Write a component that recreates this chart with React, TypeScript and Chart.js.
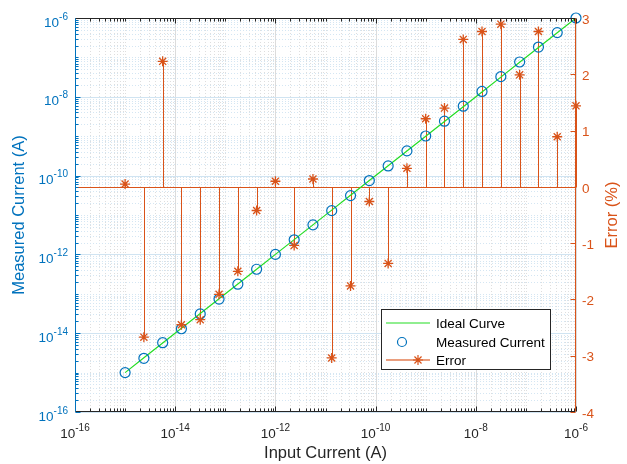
import React, { useEffect, useRef } from "react";
import { Chart, registerables } from "chart.js";

Chart.register(...registerables);

// ---------- data ----------
const inputCurrent = [
  1e-15, 2.37e-15, 5.62e-15, 1.33e-14, 3.16e-14, 7.5e-14, 1.78e-13, 4.22e-13,
  1e-12, 2.37e-12, 5.62e-12, 1.33e-11, 3.16e-11, 7.5e-11, 1.78e-10, 4.22e-10,
  1e-9, 2.37e-9, 5.62e-9, 1.33e-8, 3.16e-8, 7.5e-8, 1.78e-7, 4.22e-7, 1e-6,
];
const measuredCurrent = [
  1.0005e-15, 2.307e-15, 5.745e-15, 1.297e-14, 3.085e-14, 7.357e-14, 1.753e-13, 4.202e-13,
  1.001e-12, 2.345e-12, 5.628e-12, 1.29e-11, 3.104e-11, 7.481e-11, 1.756e-10, 4.234e-10,
  1.012e-9, 2.403e-9, 5.767e-9, 1.367e-8, 3.251e-8, 7.649e-8, 1.829e-7, 4.258e-7, 1.0e-6,
];
const errorPercent = [
  0.05, -2.67, 2.23, -2.45, -2.36, -1.91, -1.5, -0.42, 0.1, -1.04, 0.14, -3.04, -1.76,
  -0.26, -1.36, 0.33, 1.21, 1.4, 2.62, 2.76, 2.89, 1.99, 2.76, 0.89, 1.44,
];
const decadeExps = [-16, -15, -14, -13, -12, -11, -10, -9, -8, -7, -6];
const labeledExps = [-16, -14, -12, -10, -8, -6];
const minorMultipliers = [2, 3, 4, 5, 6, 7, 8, 9];
const errorTicks = [-4, -3, -2, -1, 0, 1, 2, 3];
const legendLabels = ["Ideal Curve", "Measured Current", "Error"];

// ---------- style ----------
const BLUE = "#0072BD";
const ORANGE = "#D95319";
const DARK = "#262626";
const GREEN = "#22dd22";
const FF = '"Liberation Sans", Arial, sans-serif';
const TICK_PX = 13.5;
const SUP_PX = 10;
const TITLE_PX = 16.5;

function minorValues(): number[] {
  const out: number[] = [];
  for (const k of decadeExps) {
    if (k === decadeExps[decadeExps.length - 1]) continue;
    if (!labeledExps.includes(k)) out.push(Math.pow(10, k));
    for (const m of minorMultipliers) out.push(m * Math.pow(10, k));
  }
  return out;
}

function drawPow(ctx: CanvasRenderingContext2D, e: number, x: number, yBase: number, align: string, color: string) {
  const base = "10";
  const sup = String(e);
  ctx.font = `${TICK_PX}px ${FF}`;
  const w1 = ctx.measureText(base).width;
  ctx.font = `${SUP_PX}px ${FF}`;
  const w2 = ctx.measureText(sup).width;
  const x0 = align === "center" ? x - (w1 + w2) / 2 : x - (w1 + w2);
  ctx.fillStyle = color;
  ctx.textAlign = "left";
  ctx.textBaseline = "alphabetic";
  ctx.font = `${TICK_PX}px ${FF}`;
  ctx.fillText(base, x0, yBase);
  ctx.font = `${SUP_PX}px ${FF}`;
  ctx.fillText(sup, x0 + w1, yBase - 7);
}

function drawStar(ctx: CanvasRenderingContext2D, cx: number, cy: number, r: number) {
  ctx.beginPath();
  for (let i = 0; i < 4; i++) {
    const a = (i * Math.PI) / 4;
    ctx.moveTo(cx - r * Math.cos(a), cy - r * Math.sin(a));
    ctx.lineTo(cx + r * Math.cos(a), cy + r * Math.sin(a));
  }
  ctx.stroke();
}

const decorPlugin = {
  id: "decor",
  beforeDatasetsDraw(chart: any) {
    const { ctx, chartArea: a, scales } = chart;
    const xs = scales.x, ys = scales.y, y2 = scales.y2;
    const minors = minorValues();
    ctx.save();
    ctx.lineWidth = 1;
    // minor grid (dotted)
    ctx.setLineDash([1, 2]);
    ctx.strokeStyle = "rgb(222,222,222)";
    for (const v of minors) {
      const px = Math.round(xs.getPixelForValue(v)) + 0.5;
      ctx.beginPath();
      ctx.moveTo(px, a.top);
      ctx.lineTo(px, a.bottom);
      ctx.stroke();
    }
    ctx.strokeStyle = "rgb(212,230,243)";
    for (const v of minors) {
      const py = Math.round(ys.getPixelForValue(v)) + 0.5;
      ctx.beginPath();
      ctx.moveTo(a.left, py);
      ctx.lineTo(a.right, py);
      ctx.stroke();
    }
    ctx.setLineDash([]);
    // major grid
    ctx.strokeStyle = "rgb(220,220,220)";
    for (const e of labeledExps) {
      const px = Math.round(xs.getPixelForValue(Math.pow(10, e))) + 0.5;
      ctx.beginPath();
      ctx.moveTo(px, a.top);
      ctx.lineTo(px, a.bottom);
      ctx.stroke();
    }
    ctx.strokeStyle = "rgb(208,228,242)";
    for (const e of labeledExps) {
      const py = Math.round(ys.getPixelForValue(Math.pow(10, e))) + 0.5;
      ctx.beginPath();
      ctx.moveTo(a.left, py);
      ctx.lineTo(a.right, py);
      ctx.stroke();
    }
    // stem baseline + stems
    ctx.strokeStyle = ORANGE;
    const y0 = Math.round(y2.getPixelForValue(0)) + 0.5;
    ctx.beginPath();
    ctx.moveTo(a.left, y0);
    ctx.lineTo(a.right, y0);
    ctx.stroke();
    for (let i = 0; i < inputCurrent.length; i++) {
      const px = Math.round(xs.getPixelForValue(inputCurrent[i])) + 0.5;
      const py = y2.getPixelForValue(errorPercent[i]);
      ctx.beginPath();
      ctx.moveTo(px, y0);
      ctx.lineTo(px, py);
      ctx.stroke();
    }
    ctx.restore();
  },
  afterDatasetsDraw(chart: any) {
    const { ctx, chartArea: a, scales } = chart;
    const xs = scales.x, ys = scales.y, y2 = scales.y2;
    const minors = minorValues();
    ctx.save();
    ctx.lineWidth = 1;
    const L = Math.round(a.left) + 0.5, R = Math.round(a.right) - 0.5;
    const T = Math.round(a.top) + 0.5, B = Math.round(a.bottom) - 0.5;
    // ticks x (bottom & top)
    ctx.strokeStyle = DARK;
    const xt = (v: number, len: number) => {
      const px = Math.round(xs.getPixelForValue(v)) + 0.5;
      ctx.beginPath();
      ctx.moveTo(px, B);
      ctx.lineTo(px, B - len);
      ctx.moveTo(px, T);
      ctx.lineTo(px, T + len);
      ctx.stroke();
    };
    for (const v of minors) xt(v, 3);
    for (const e of labeledExps) xt(Math.pow(10, e), 5);
    // ticks left
    ctx.strokeStyle = BLUE;
    const yt = (v: number, len: number) => {
      const py = Math.round(ys.getPixelForValue(v)) + 0.5;
      ctx.beginPath();
      ctx.moveTo(L, py);
      ctx.lineTo(L + len, py);
      ctx.stroke();
    };
    for (const v of minors) yt(v, 3);
    for (const e of labeledExps) yt(Math.pow(10, e), 5);
    // ticks right
    ctx.strokeStyle = ORANGE;
    for (const t of errorTicks) {
      const py = Math.round(y2.getPixelForValue(t)) + 0.5;
      ctx.beginPath();
      ctx.moveTo(R, py);
      ctx.lineTo(R - 5, py);
      ctx.stroke();
    }
    // frame
    ctx.strokeStyle = DARK;
    ctx.beginPath();
    ctx.moveTo(L, T);
    ctx.lineTo(R, T);
    ctx.moveTo(L, B);
    ctx.lineTo(R, B);
    ctx.stroke();
    ctx.strokeStyle = BLUE;
    ctx.beginPath();
    ctx.moveTo(L, T);
    ctx.lineTo(L, B);
    ctx.stroke();
    ctx.strokeStyle = ORANGE;
    ctx.beginPath();
    ctx.moveTo(R, T);
    ctx.lineTo(R, B);
    ctx.stroke();
    // tick labels
    for (const e of labeledExps) {
      const v = Math.pow(10, e);
      drawPow(ctx, e, xs.getPixelForValue(v), a.bottom + 26, "center", DARK);
      drawPow(ctx, e, a.left - 7, ys.getPixelForValue(v) + 8.5, "right", BLUE);
    }
    ctx.font = `${TICK_PX}px ${FF}`;
    ctx.fillStyle = ORANGE;
    ctx.textAlign = "left";
    ctx.textBaseline = "middle";
    for (const t of errorTicks) {
      ctx.fillText(String(t), a.right + 6, y2.getPixelForValue(t) + 2);
    }
    // right title
    ctx.save();
    ctx.translate(612.5, (a.top + a.bottom) / 2);
    ctx.rotate(-Math.PI / 2);
    ctx.font = `${TITLE_PX}px ${FF}`;
    ctx.fillStyle = ORANGE;
    ctx.textAlign = "center";
    ctx.textBaseline = "middle";
    ctx.fillText("Error (%)", 0, 0);
    ctx.restore();
    // legend
    const bx = 381.5, by = 309.5, bw = 169, bh = 60;
    ctx.fillStyle = "#ffffff";
    ctx.fillRect(bx, by, bw, bh);
    ctx.strokeStyle = DARK;
    ctx.strokeRect(bx, by, bw, bh);
    const rows = [323, 342, 360];
    ctx.strokeStyle = GREEN;
    ctx.lineWidth = 1.2;
    ctx.beginPath();
    ctx.moveTo(386, rows[0]);
    ctx.lineTo(430, rows[0]);
    ctx.stroke();
    ctx.strokeStyle = BLUE;
    ctx.beginPath();
    ctx.arc(402, rows[1], 4.5, 0, Math.PI * 2);
    ctx.stroke();
    ctx.strokeStyle = "rgba(217,83,25,0.75)";
    ctx.lineWidth = 1.6;
    ctx.beginPath();
    ctx.moveTo(386, rows[2]);
    ctx.lineTo(430, rows[2]);
    ctx.stroke();
    ctx.strokeStyle = ORANGE;
    ctx.lineWidth = 1.2;
    drawStar(ctx, 418, rows[2], 5);
    ctx.font = `${TICK_PX}px ${FF}`;
    ctx.fillStyle = "#000000";
    ctx.textAlign = "left";
    ctx.textBaseline = "middle";
    legendLabels.forEach((lab, i) => ctx.fillText(lab, 436, rows[i] + 1));
    ctx.restore();
  },
};

export default function App() {
  const ref = useRef<HTMLCanvasElement | null>(null);
  useEffect(() => {
    if (!ref.current) return;
    Chart.defaults.font.family = FF;
    const chart = new Chart(ref.current, {
      type: "scatter",
      data: {
        datasets: [
          {
            label: legendLabels[2],
            data: inputCurrent.map((x, i) => ({ x, y: errorPercent[i] })),
            yAxisID: "y2",
            pointStyle: "star",
            pointRadius: 5,
            borderColor: ORANGE,
            backgroundColor: ORANGE,
            borderWidth: 1.3,
            showLine: false,
            order: 0,
            clip: 8,
          },
          {
            label: legendLabels[1],
            data: inputCurrent.map((x, i) => ({ x, y: measuredCurrent[i] })),
            yAxisID: "y",
            pointStyle: "circle",
            pointRadius: 5,
            borderColor: BLUE,
            backgroundColor: "rgba(0,0,0,0)",
            borderWidth: 1.2,
            showLine: false,
            order: 1,
            clip: 8,
          },
          {
            label: legendLabels[0],
            data: inputCurrent.map((x) => ({ x, y: x })),
            yAxisID: "y",
            showLine: true,
            pointRadius: 0,
            borderColor: GREEN,
            borderWidth: 1.2,
            order: 2,
          },
        ],
      },
      options: {
        animation: false,
        responsive: true,
        maintainAspectRatio: false,
        layout: { padding: { top: 18, left: 0, right: 0, bottom: 0 } },
        plugins: { legend: { display: false }, tooltip: { enabled: false } },
        events: [],
        scales: {
          x: {
            type: "logarithmic",
            min: 1e-16,
            max: 1e-6,
            ticks: { display: false },
            grid: { display: false },
            border: { display: false },
            title: {
              display: true,
              text: "Input Current (A)",
              color: DARK,
              font: { size: TITLE_PX, family: FF },
              padding: { top: 0, bottom: 1 },
            },
            afterFit: (s: any) => {
              s.height = 52;
            },
          },
          y: {
            type: "logarithmic",
            position: "left",
            min: 1e-16,
            max: 1e-6,
            ticks: { display: false },
            grid: { display: false },
            border: { display: false },
            title: {
              display: true,
              text: "Measured Current (A)",
              color: BLUE,
              font: { size: TITLE_PX, family: FF },
              padding: { top: 10, bottom: 0 },
            },
            afterFit: (s: any) => {
              s.width = 75;
            },
          },
          y2: {
            type: "linear",
            position: "right",
            min: -4,
            max: 3,
            ticks: { display: false },
            grid: { display: false },
            border: { display: false },
            afterFit: (s: any) => {
              s.width = 51;
            },
          },
        },
      } as any,
      plugins: [decorPlugin],
    });
    return () => chart.destroy();
  }, []);
  return (
    <div style={{ position: "absolute", left: 0, top: 0, width: 627, height: 464 }}>
      <canvas ref={ref} />
    </div>
  );
}
